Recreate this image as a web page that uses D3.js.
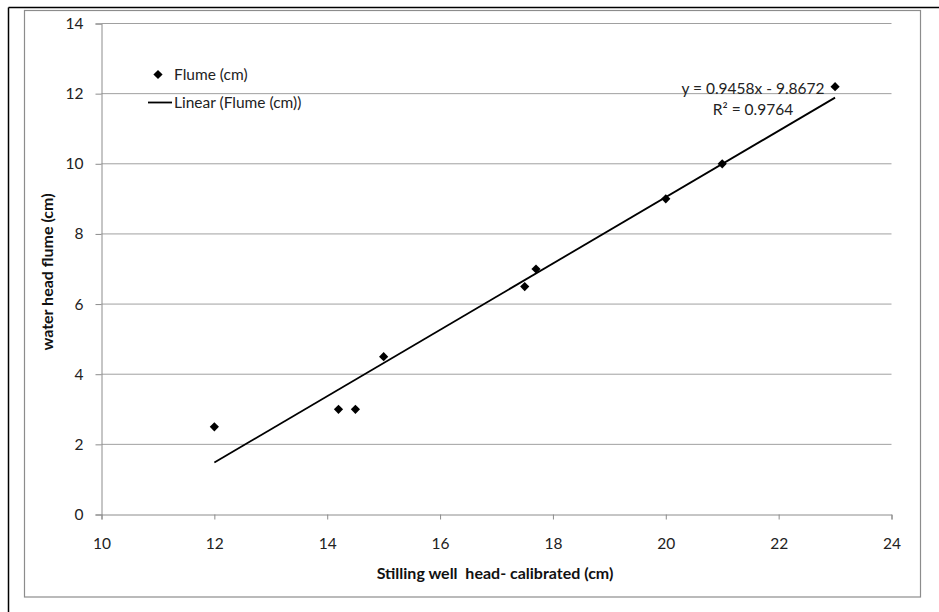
<!DOCTYPE html>
<html><head><meta charset="utf-8">
<script src="https://cdn.jsdelivr.net/npm/d3@7"></script>
<style>body{margin:0;background:#fff}svg{display:block}</style>
</head><body>
<script>
const xValues = [12, 14.2, 14.5, 15, 17.5, 17.7, 20, 21, 23];
const yValues = [2.5, 3, 3, 4.5, 6.5, 7, 9, 10, 12.2];
const xTicks = [10, 12, 14, 16, 18, 20, 22, 24];
const yTicks = [0, 2, 4, 6, 8, 10, 12, 14];
const trendSlope = 0.9458;
const trendIntercept = -9.8672;
const equationLines = ["y = 0.9458x - 9.8672", "R² = 0.9764"];
const legendLabels = ["Flume (cm)", "Linear (Flume (cm))"];
const xTitle = "Stilling well  head- calibrated (cm)";
const yTitle = "water head flume (cm)";

const W = 939, H = 612;
const font = "Lato, 'Open Sans', sans-serif";
const fs = 15.5, fsB = 16;
const svg = d3.select("body").append("svg").attr("width", W).attr("height", H);

// outer black frame (top and left)
svg.append("line").attr("x1", 8.5).attr("x2", W).attr("y1", 7.5).attr("y2", 7.5).attr("stroke", "#000").attr("stroke-width", 1.5);
svg.append("line").attr("x1", 8.5).attr("x2", 8.5).attr("y1", 7.5).attr("y2", H).attr("stroke", "#000").attr("stroke-width", 1.5);
// inner gray chart border
svg.append("rect").attr("x", 24.5).attr("y", 10.5).attr("width", 896).attr("height", 586.5)
  .attr("fill", "#fff").attr("stroke", "#8c8c8c").attr("stroke-width", 1.2);

const x = d3.scaleLinear().domain([10, 24]).range([101.5, 891.5]);
const y = d3.scaleLinear().domain([0, 14]).range([514.5, 23.5]);

// gridlines
svg.append("g").selectAll("line").data(yTicks.filter(d => d > 0)).join("line")
  .attr("x1", x(10)).attr("x2", x(24)).attr("y1", d => y(d)).attr("y2", d => y(d))
  .attr("stroke", "#a0a0a0").attr("stroke-width", 1);

// axes
const xAxis = svg.append("g").attr("transform", `translate(0,${y(0)})`)
  .call(d3.axisBottom(x).tickValues(xTicks).tickSize(5).tickPadding(18).tickFormat(d3.format("d")));
const yAxis = svg.append("g").attr("transform", `translate(${x(10)},0)`)
  .call(d3.axisLeft(y).tickValues(yTicks).tickSize(6).tickPadding(12).tickFormat(d3.format("d")));
[xAxis, yAxis].forEach(g => {
  g.select(".domain").attr("stroke", "#8c8c8c");
  g.selectAll(".tick line").attr("stroke", "#8c8c8c");
  g.selectAll(".tick text").attr("font-family", font).attr("font-size", fs).attr("fill", "#222");
});

// trendline
const tx = d3.extent(xValues);
svg.append("line")
  .attr("x1", x(tx[0])).attr("y1", y(trendSlope * tx[0] + trendIntercept))
  .attr("x2", x(tx[1])).attr("y2", y(trendSlope * tx[1] + trendIntercept))
  .attr("stroke", "#000").attr("stroke-width", 1.8);

// points
const diamond = (cx, cy, r) => `M${cx},${cy - r}L${cx + r},${cy}L${cx},${cy + r}L${cx - r},${cy}Z`;
svg.append("g").selectAll("path").data(xValues.map((v, i) => [v, yValues[i]])).join("path")
  .attr("d", d => diamond(x(d[0]), y(d[1]), 4.6)).attr("fill", "#000");

// equation
svg.append("g").selectAll("text").data(equationLines).join("text")
  .attr("x", 753).attr("y", (d, i) => 93.5 + i * 21.5).attr("text-anchor", "middle")
  .attr("font-family", font).attr("font-size", fs).attr("fill", "#222").text(d => d);

// legend
svg.append("path").attr("d", diamond(158, 74.5, 4.6)).attr("fill", "#000");
svg.append("line").attr("x1", 148).attr("x2", 172).attr("y1", 102.5).attr("y2", 102.5).attr("stroke", "#000").attr("stroke-width", 1.8);
svg.append("g").selectAll("text").data(legendLabels).join("text")
  .attr("x", 174).attr("y", (d, i) => 79.5 + i * 28)
  .attr("font-family", font).attr("font-size", fs).attr("fill", "#222").text(d => d);

// axis titles
svg.append("text").attr("x", 495).attr("y", 579).attr("text-anchor", "middle")
  .attr("font-family", font).attr("font-weight", "bold").attr("font-size", fsB).attr("fill", "#111")
  .style("white-space", "pre").text(xTitle);
svg.append("text").attr("transform", "translate(53,272) rotate(-90)").attr("text-anchor", "middle")
  .attr("font-family", font).attr("font-weight", "bold").attr("font-size", fsB).attr("fill", "#111").text(yTitle);
</script>
</body></html>
